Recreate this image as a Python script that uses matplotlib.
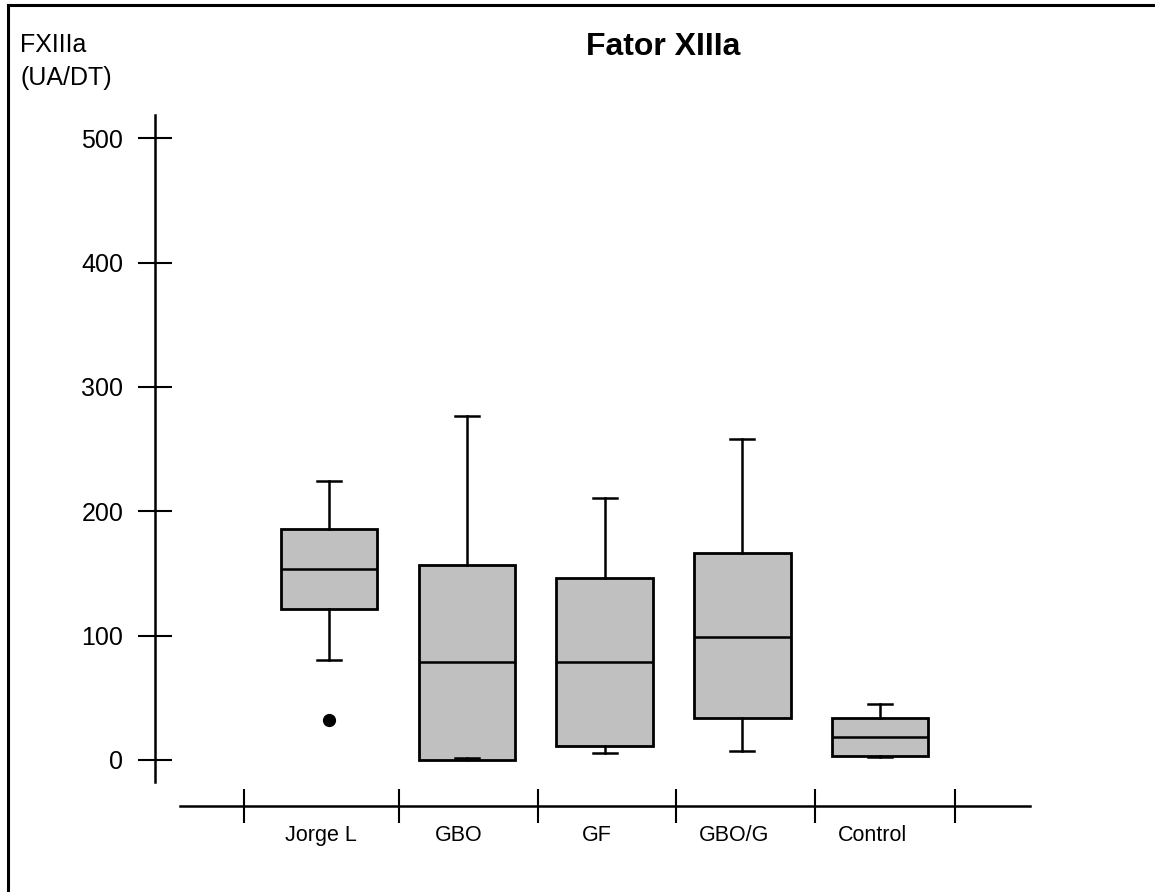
import matplotlib
matplotlib.use("Agg")
import matplotlib.pyplot as plt
import matplotlib.transforms as mtransforms
from matplotlib.lines import Line2D

# ---- data ----
categories = ["Jorge L", "GBO", "GF", "GBO/G", "Control"]
whisker_low = [80.5, 1.5, 6.0, 7.5, 2.5]
q1_values = [121.5, 0.0, 11.0, 34.0, 3.5]
medians = [153.5, 78.5, 79.0, 99.0, 18.5]
q3_values = [185.5, 157.0, 146.0, 166.5, 34.0]
whisker_high = [224.5, 277.0, 211.0, 258.0, 45.0]
outliers = [[32.0], [], [], [], []]
y_ticks = [0, 100, 200, 300, 400, 500]
title = "Fator XIIIa"
y_label = "FXIIIa\n(UA/DT)"

plt.rcParams['font.family'] = ['Liberation Sans', 'DejaVu Sans']

W, H = 1155, 892
fig = plt.figure(figsize=(W / 100, H / 100), dpi=100)
ax = fig.add_axes([155 / W, (H - 806) / H, 875 / W, 691 / H])

positions = list(range(1, len(categories) + 1))
stats = []
for i, c in enumerate(categories):
    stats.append(dict(label=c, whislo=whisker_low[i], q1=q1_values[i], med=medians[i],
                      q3=q3_values[i], whishi=whisker_high[i], fliers=outliers[i]))

ax.bxp(stats, positions=positions, widths=0.70, capwidths=0.175, patch_artist=True,
       boxprops=dict(facecolor='#c0c0c0', edgecolor='black', linewidth=2.0),
       medianprops=dict(color='black', linewidth=1.8),
       whiskerprops=dict(color='black', linewidth=1.8),
       capprops=dict(color='black', linewidth=1.8),
       flierprops=dict(marker='o', markerfacecolor='black', markeredgecolor='black',
                       markersize=8.5, linestyle='none'))

ax.set_xlim(-0.2627, 6.087)
ax.set_ylim(-37.0, 518.7)

for s in ['top', 'right']:
    ax.spines[s].set_visible(False)
ax.spines['left'].set_linewidth(1.8)
ax.spines['bottom'].set_linewidth(1.8)
ax.spines['left'].set_bounds(-17.7, 518.7)
ax.spines['bottom'].set_bounds(-0.081, 6.087)

ax.set_yticks(y_ticks)
ax.set_yticklabels([str(v) for v in y_ticks])
ax.tick_params(axis='y', which='major', direction='inout', length=24.5, width=1.5,
               pad=10.5, labelsize=18, colors='black')

ax.set_xticks(positions)
ax.set_xticklabels(categories)
ax.tick_params(axis='x', which='major', length=0, pad=14, labelsize=15.5)
shift = mtransforms.ScaledTranslation(-8 / 100, 0, fig.dpi_scale_trans)
for lab in ax.get_xticklabels():
    lab.set_transform(lab.get_transform() + shift)

ax.set_xticks([0.38, 1.51, 2.52, 3.52, 4.53, 5.54], minor=True)
ax.tick_params(axis='x', which='minor', direction='inout', length=24, width=1.5)

fig.text(663 / W, 1 - 55 / H, title, ha='center', va='baseline', fontsize=23,
         fontweight='bold')
fig.text(20 / W, 1 - 33 / H, y_label, ha='left', va='top', fontsize=18,
         linespacing=1.45)

# figure frame (top and left)
fig.add_artist(Line2D([8 / W, 8 / W], [0, 1 - 5 / H], transform=fig.transFigure,
                      color='black', linewidth=2.2))
fig.add_artist(Line2D([8 / W, 1], [1 - 5 / H, 1 - 5 / H], transform=fig.transFigure,
                      color='black', linewidth=2.2))

fig.savefig("out.png", dpi=100, facecolor='white')
